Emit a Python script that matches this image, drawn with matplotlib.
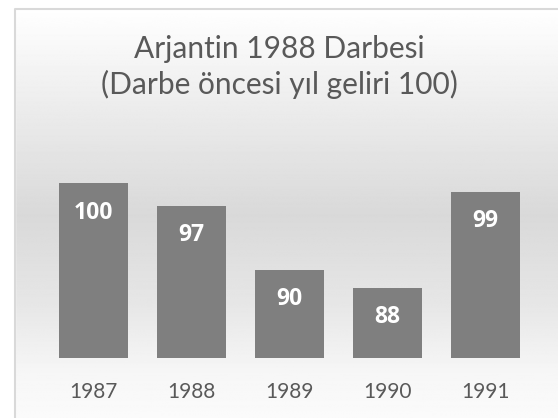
import matplotlib

matplotlib.use('Agg')
import matplotlib.pyplot as plt
import numpy as np
from matplotlib.patches import Rectangle

plt.rcParams['font.family'] = ['Lato', 'DejaVu Sans']

# veriler
years = ['1987', '1988', '1989', '1990', '1991']
income = [100, 97.4, 90.1, 88, 99.0]
title = 'Arjantin 1988 Darbesi\n(Darbe öncesi yıl geliri 100)'

W, H = 558, 418
fig = plt.figure(figsize=(W / 100, H / 100), dpi=100)

# arka plan degrade
bg = fig.add_axes([0, 0, 1, 1], zorder=0)
bg.set_xlim(0, W)
bg.set_ylim(H, 0)
bg.axis('off')
ys = np.arange(H)
gray = np.interp(ys, [0, 10, 100, 210, 300, 370, 418], [255, 253, 236, 217, 230, 246, 251]) / 255
grad = np.repeat(gray[:, None], 2, axis=1)
bg.imshow(grad, cmap='gray', vmin=0, vmax=1, extent=[15, W, H, 9], aspect='auto')
bg.add_patch(Rectangle((0, 0), 15, H, color='white', zorder=1))
bg.add_patch(Rectangle((0, 0), W, 9, color='white', zorder=1))
bg.plot([15, 15, W], [H, 9, 9], color='#d9d9d9', lw=1.5, zorder=2)

# ana grafik
ax = fig.add_axes([44.3 / W, 1 - 358 / H, 490 / W, 192 / H], zorder=1)
ax.patch.set_alpha(0)
x = np.arange(len(years))
bars = ax.bar(x, income, width=0.7, bottom=0, color='#7f7f7f')
ax.set_ylim(80, 102)
ax.set_xlim(-0.5, len(years) - 0.5)
for b, v in zip(bars, income):
    ax.text(b.get_x() + b.get_width() / 2, v - 3.35, '%.0f' % v, ha='center', va='center',
            color='white', fontsize=16.5, fontweight='bold', family=['Open Sans', 'DejaVu Sans'])
ax.set_xticks(x)
ax.set_xticklabels(years, fontsize=15, color='#595959')
ax.tick_params(length=0, pad=17)
ax.set_yticks([])
for s in ax.spines.values():
    s.set_visible(False)

fig.text(0.5, 1 - 67 / H, title, ha='center', va='center', fontsize=21.5, color='#595959',
         linespacing=1.32)

plt.savefig('out.png', dpi=100)
